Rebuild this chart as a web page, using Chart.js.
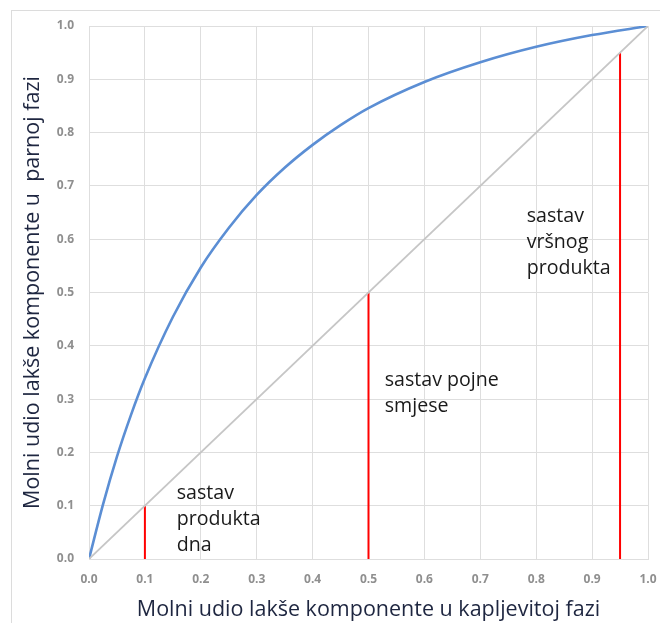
<!DOCTYPE html>
<html>
<head>
<meta charset="utf-8">
<script src="https://cdn.jsdelivr.net/npm/chart.js@4"></script>
<style>
  body { margin: 0; background: #fff; }
  #wrap { position: relative; width: 660px; height: 623px; }
  #frame { position: absolute; left: 11px; top: 10px; width: 660px; height: 640px; border: 1px solid #dcdcdc; }
  canvas { position: absolute; left: 0; top: 0; }
</style>
</head>
<body>
<div id="wrap">
  <div id="frame"></div>
  <canvas id="myChart" width="660" height="623"></canvas>
</div>
<script>
// ravnotezna krivulja (procitano sa slike)
const liquidX = [0, 0.025, 0.05, 0.075, 0.1, 0.15, 0.2, 0.25, 0.3, 0.35, 0.4, 0.45, 0.5, 0.6, 0.7, 0.8, 0.9, 1.0];
const vaporY  = [0, 0.102, 0.192, 0.27, 0.339, 0.454, 0.547, 0.621, 0.683, 0.734, 0.777, 0.814, 0.846, 0.895, 0.932, 0.961, 0.983, 1.0];
const diagonal = [0, 1];
// sastavi: dno, pojna smjesa, vrh
const compositions = [0.1, 0.5, 0.95];
const noteLines = [
  ['sastav', 'produkta', 'dna'],
  ['sastav pojne', 'smjese'],
  ['sastav', 'vršnog', 'produkta']
];
const noteX = [0.157, 0.529, 0.783];
const noteY = [0.124, 0.336, 0.642];
const tickLabels = ['0.0','0.1','0.2','0.3','0.4','0.5','0.6','0.7','0.8','0.9','1.0'];

const FONT = '"Open Sans", sans-serif';

const curve = liquidX.map((x, i) => ({ x: x, y: vaporY[i] }));
const diag = diagonal.map(v => ({ x: v, y: v }));

const datasets = [
  {
    label: 'diag',
    data: diag,
    showLine: true,
    borderColor: '#c6c6c6',
    borderWidth: 1.8,
    pointRadius: 0
  },
  {
    label: 'ravnoteza',
    data: curve,
    showLine: true,
    borderColor: '#5b8ed4',
    borderWidth: 2.6,
    pointRadius: 0,
    cubicInterpolationMode: 'monotone'
  }
];
compositions.forEach(c => {
  datasets.push({
    label: 'x=' + c,
    data: [{ x: c, y: 0 }, { x: c, y: c }],
    showLine: true,
    borderColor: '#ff0000',
    borderWidth: 2,
    pointRadius: 0
  });
});

const notes = {
  id: 'notes',
  afterDatasetsDraw(chart) {
    const ctx = chart.ctx;
    const xs = chart.scales.x, ys = chart.scales.y;
    ctx.save();
    ctx.fillStyle = '#1a1a1a';
    ctx.font = '19.6px ' + FONT;
    ctx.textBaseline = 'middle';
    noteLines.forEach((lines, i) => {
      const px = xs.getPixelForValue(noteX[i]);
      const py = ys.getPixelForValue(noteY[i]);
      lines.forEach((t, j) => ctx.fillText(t, px, py + j * 26));
    });
    ctx.restore();
  }
};

new Chart(document.getElementById('myChart'), {
  type: 'scatter',
  data: { datasets: datasets },
  options: {
    responsive: false,
    animation: false,
    layout: { padding: { top: 26, right: 0, left: 0, bottom: 0 } },
    plugins: { legend: { display: false }, tooltip: { enabled: false } },
    scales: {
      x: {
        min: 0, max: 1,
        afterFit: s => { s.height = 64; s.paddingRight = 12; },
        afterBuildTicks: s => { s.ticks = tickLabels.map(v => ({ value: parseFloat(v) })); },
        grid: { color: '#dedede', lineWidth: 1, drawTicks: false },
        border: { color: '#dedede' },
        ticks: {
          padding: 13,
          color: '#8f8f8f',
          font: { family: FONT, size: 12, weight: 'bold' },
          callback: (v, i) => tickLabels[i]
        },
        title: {
          display: true,
          text: 'Molni udio lakše komponente u kapljevitoj fazi',
          color: '#1e2640',
          font: { family: FONT, size: 21.5 },
          padding: { top: 2, bottom: 0 }
        }
      },
      y: {
        min: 0, max: 1,
        afterFit: s => { s.width = 89; },
        afterBuildTicks: s => { s.ticks = tickLabels.map(v => ({ value: parseFloat(v) })); },
        grid: { color: '#dedede', lineWidth: 1, drawTicks: false },
        border: { color: '#dedede' },
        ticks: {
          padding: 15,
          color: '#8f8f8f',
          font: { family: FONT, size: 12, weight: 'bold' },
          callback: (v, i) => tickLabels[i]
        },
        title: {
          display: true,
          text: 'Molni udio lakše komponente u  parnoj fazi',
          color: '#1e2640',
          font: { family: FONT, size: 21.5 },
          padding: { top: 20, bottom: 0 }
        }
      }
    }
  },
  plugins: [notes]
});
</script>
</body>
</html>
